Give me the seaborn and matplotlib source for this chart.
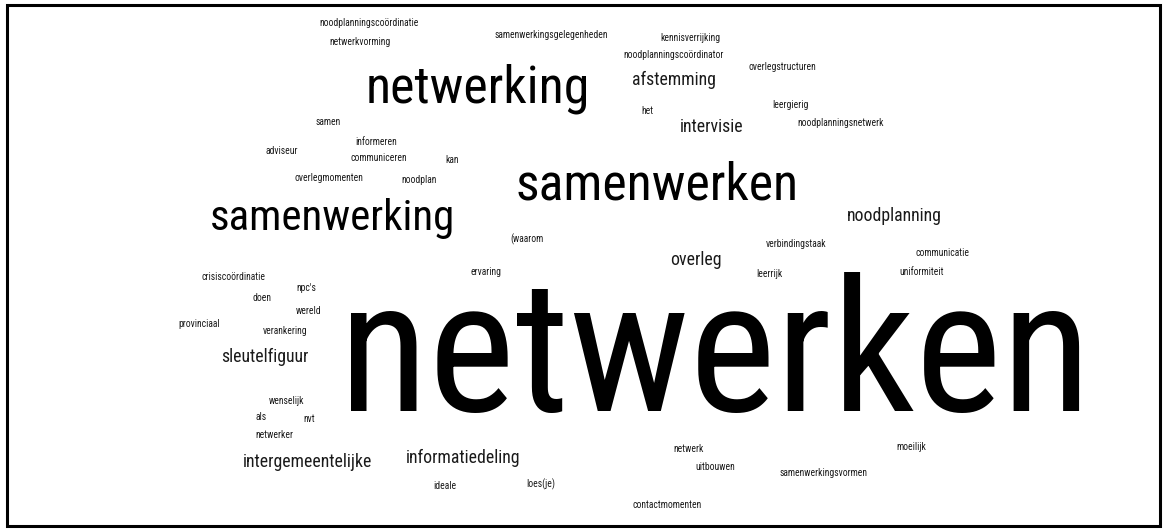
import matplotlib
matplotlib.use("Agg")
import matplotlib.pyplot as plt
from matplotlib import font_manager as fm
from matplotlib.patches import Rectangle
import seaborn as sns

# ---- data: words and their (estimated) frequencies ----
words = [
    "netwerken", "samenwerken", "netwerking", "samenwerking",
    "afstemming", "intervisie", "noodplanning", "overleg", "sleutelfiguur",
    "intergemeentelijke", "informatiedeling",
    "noodplanningscoördinatie", "netwerkvorming", "samenwerkingsgelegenheden",
    "kennisverrijking", "noodplanningscoördinator", "overlegstructuren", "het",
    "leergierig", "noodplanningsnetwerk", "samen", "informeren", "adviseur",
    "communiceren", "kan", "overlegmomenten", "noodplan", "(waarom",
    "ervaring", "leerrijk", "verbindingstaak", "communicatie", "uniformiteit",
    "crisiscoördinatie", "npc's", "doen", "wereld", "provinciaal",
    "verankering", "wenselijk", "als", "nvt", "netwerker", "ideale",
    "loes(je)", "netwerk", "uitbouwen", "samenwerkingsvormen", "moeilijk",
    "contactmomenten",
]
freqs = [
    22.6, 6.2, 6.2, 5.1,
    2, 2, 2, 2, 2,
    2, 2,
    1, 1, 1,
    1, 1, 1, 1,
    1, 1, 1, 1, 1,
    1, 1, 1, 1, 1,
    1, 1, 1, 1, 1,
    1, 1, 1, 1, 1,
    1, 1, 1, 1, 1, 1,
    1, 1, 1, 1, 1,
    1,
]

# ---- layout (word-cloud placement, pixels from top-left; x = centre, y = baseline) ----
pos_x = [
    715, 657, 478, 332,
    674, 712, 894, 696, 265,
    308, 463,
    369, 360, 551,
    690, 674, 782, 647,
    790, 841, 328, 376, 282,
    379, 452, 329, 419, 527,
    486, 769, 796, 943, 922,
    234, 306, 262, 309, 199,
    285, 287, 261, 309, 274, 445,
    541, 689, 715, 824, 911,
    667,
]
pos_y = [
    411, 199, 103, 230,
    85, 132, 221, 265, 362,
    467, 463,
    26, 45, 38,
    41, 58, 70, 114,
    108, 126, 125, 145, 154,
    161, 163, 181, 183, 242,
    275, 277, 247, 256, 275,
    280, 291, 301, 314, 327,
    334, 404, 420, 422, 438, 489,
    487, 452, 470, 476, 450,
    508,
]

W, H = 1165, 530
sns.set_theme(style="white")

names = {f.name for f in fm.fontManager.ttflist}
family = "Roboto Condensed" if "Roboto Condensed" in names else "Roboto"
plt.rcParams["font.family"] = [family, "DejaVu Sans"]

fig = plt.figure(figsize=(W / 100, H / 100), dpi=100)
fig.patch.set_facecolor("white")
ax = fig.add_axes([0, 0, 1, 1])
ax.set_xlim(0, W)
ax.set_ylim(H, 0)
ax.axis("off")

def size_pt(f):
    # linear size scale: em in pixels -> points at 100 dpi
    return 0.72 * (1.6 + 8.1 * f)

for w, f, x, y in zip(words, freqs, pos_x, pos_y):
    ax.text(x, y, w, ha="center", va="baseline", fontsize=size_pt(f),
            color="#000000" if f >= 5 else "#1a1a1a", family=[family, "DejaVu Sans"])

# frame around the image
ax.add_patch(Rectangle((7, 5), 1153, 521, fill=False, edgecolor="black",
                       linewidth=2.2, transform=ax.transData, clip_on=False))

fig.savefig("out.png", dpi=100, facecolor="white")
